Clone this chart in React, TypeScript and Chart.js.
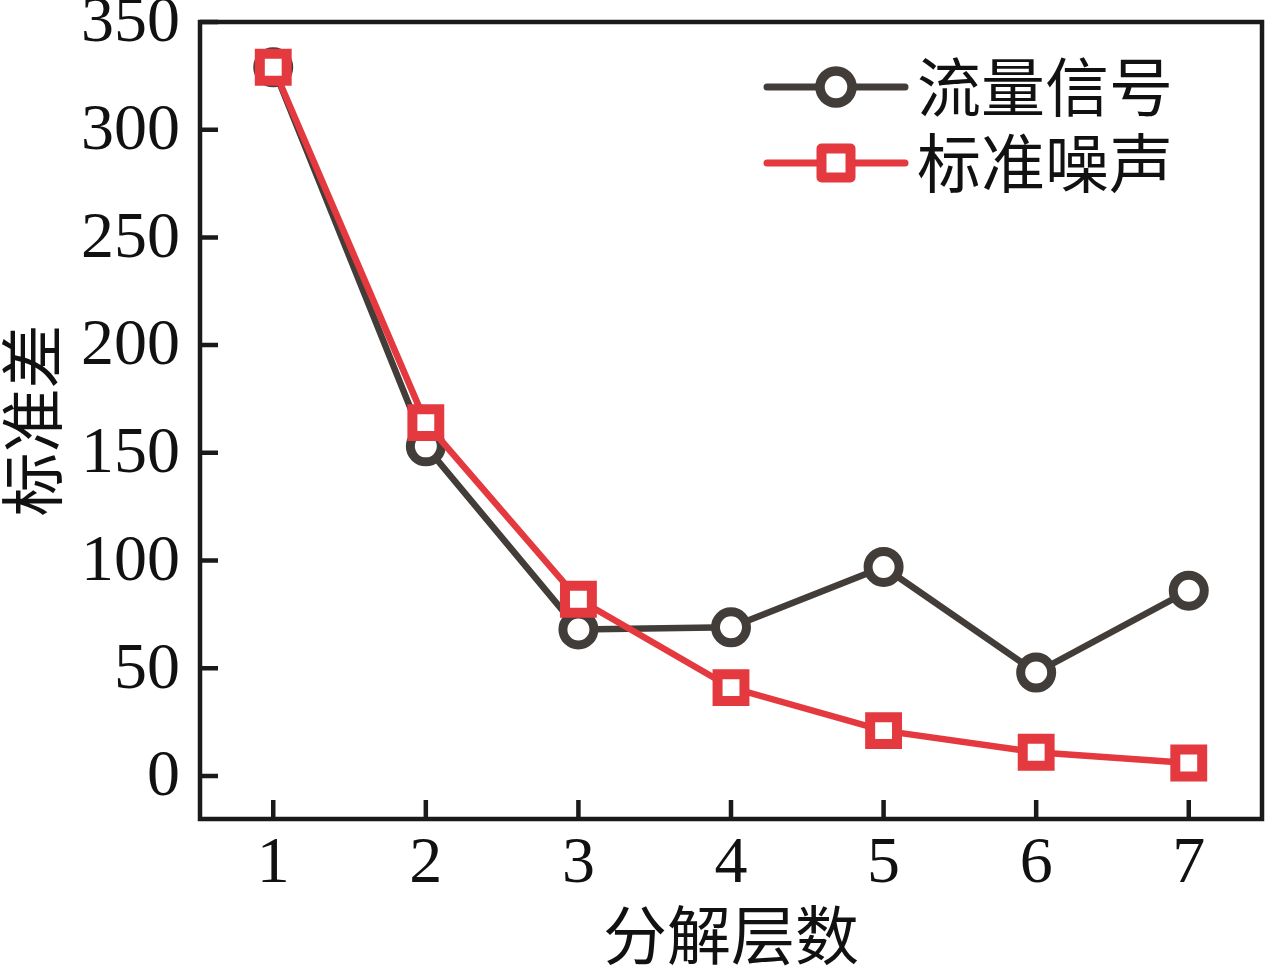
import { useEffect, useRef } from 'react';
import { Chart, registerables } from 'chart.js';
import type { Plugin } from 'chart.js';

Chart.register(...registerables);

// 分解层数 1..7
const levels = [1, 2, 3, 4, 5, 6, 7];
const flowSignal = [329, 153, 68, 69, 97, 48, 86];
const stdNoise = [329, 164, 82, 41, 21, 11, 6];
const yTickValues = [0, 50, 100, 150, 200, 250, 300, 350];
const seriesNames = ['流量信号', '标准噪声'];

const DARK = '#433d3a';
const RED = '#e4393f';
const AXIS = '#1a1a1a';
const SERIF = '"Liberation Serif", "Times New Roman", serif';
const CJK = '"Noto Sans CJK SC", sans-serif';

// 内向刻度 + 边框
const framePlugin: Plugin<'line'> = {
    id: 'frame',
    afterDraw(chart) {
        const { ctx, chartArea: a, scales } = chart;
        ctx.save();
        ctx.strokeStyle = AXIS;
        ctx.lineWidth = 4.5;
        ctx.beginPath();
        for (const t of scales.y.ticks) {
            const py = scales.y.getPixelForValue(t.value);
            ctx.moveTo(a.left, py);
            ctx.lineTo(a.left + 18, py);
        }
        for (const t of scales.x.ticks) {
            const px = scales.x.getPixelForValue(t.value);
            ctx.moveTo(px, a.bottom);
            ctx.lineTo(px, a.bottom - 19);
        }
        ctx.stroke();
        ctx.strokeRect(a.left, a.top, a.right - a.left, a.bottom - a.top);
        ctx.restore();
    },
};

// 图例：线段 + 标记 + 文字
const legendPlugin: Plugin<'line'> = {
    id: 'lineLegend',
    afterDraw(chart) {
        const { ctx, chartArea: a } = chart;
        const items = [
            { name: seriesNames[0], color: DARK, style: 'circle' },
            { name: seriesNames[1], color: RED, style: 'rect' },
        ];
        ctx.save();
        items.forEach((it, i) => {
            const y = a.top + 65 + i * 76;
            const x0 = a.right - 495;
            const x1 = a.right - 357;
            const cx = (x0 + x1) / 2;
            ctx.strokeStyle = it.color;
            ctx.lineWidth = 7;
            ctx.lineCap = 'round';
            ctx.beginPath();
            ctx.moveTo(x0, y);
            ctx.lineTo(x1, y);
            ctx.stroke();
            ctx.lineCap = 'butt';
            ctx.fillStyle = '#ffffff';
            ctx.beginPath();
            if (it.style === 'circle') {
                ctx.lineWidth = 9.5;
                ctx.arc(cx, y, 16, 0, Math.PI * 2);
            } else {
                ctx.lineWidth = 10;
                ctx.lineJoin = 'round';
                ctx.rect(cx - 14.5, y - 14.5, 29, 29);
            }
            ctx.fill();
            ctx.stroke();
            ctx.fillStyle = '#111111';
            ctx.font = `64px ${CJK}`;
            ctx.textAlign = 'left';
            ctx.textBaseline = 'middle';
            ctx.fillText(it.name, a.right - 345, y);
        });
        ctx.restore();
    },
};

// 固定轴尺寸，去掉标签溢出的自动边距
const fixSize = (dim: 'width' | 'height', val: number) => (s: any) => {
    s[dim] = val;
    s.paddingTop = 0;
    s.paddingBottom = 0;
    s.paddingLeft = 0;
    s.paddingRight = 0;
};

export default function App() {
    const canvasRef = useRef<HTMLCanvasElement | null>(null);
    const chartRef = useRef<Chart<'line'> | null>(null);

    useEffect(() => {
        document.body.style.margin = '0';
        const canvas = canvasRef.current;
        if (!canvas) return;

        const existing = Chart.getChart(canvas);
        if (existing) existing.destroy();

        const tickFont = { family: SERIF, size: 66 };
        const titleFont = { family: CJK, size: 64, lineHeight: 1 };

        chartRef.current = new Chart(canvas, {
            type: 'line',
            data: {
                datasets: [
                    {
                        label: seriesNames[1],
                        data: levels.map((x, i) => ({ x, y: stdNoise[i] })),
                        borderColor: RED,
                        backgroundColor: '#ffffff',
                        borderWidth: 6.5,
                        tension: 0,
                        pointStyle: 'rect',
                        pointRadius: 19,
                        pointBorderWidth: 10,
                        pointBorderColor: RED,
                        pointBackgroundColor: '#ffffff',
                        order: 0,
                    },
                    {
                        label: seriesNames[0],
                        data: levels.map((x, i) => ({ x, y: flowSignal[i] })),
                        borderColor: DARK,
                        backgroundColor: '#ffffff',
                        borderWidth: 6.5,
                        tension: 0,
                        pointStyle: 'circle',
                        pointRadius: 15.5,
                        pointBorderWidth: 9,
                        pointBorderColor: DARK,
                        pointBackgroundColor: '#ffffff',
                        order: 1,
                    },
                ],
            },
            options: {
                animation: false,
                responsive: true,
                maintainAspectRatio: false,
                layout: { autoPadding: false, padding: { top: 22, right: 4, left: 0, bottom: 0 } },
                plugins: {
                    legend: { display: false },
                    tooltip: { enabled: false },
                },
                scales: {
                    x: {
                        type: 'linear',
                        min: 0.52,
                        max: 7.48,
                        afterBuildTicks: (s) => {
                            s.ticks = levels.map((v) => ({ value: v }));
                        },
                        afterFit: fixSize('height', 152),
                        grid: { display: false },
                        border: { display: false },
                        ticks: { font: tickFont, color: '#111111', padding: -2, maxRotation: 0 },
                        title: {
                            display: true,
                            text: '分解层数',
                            font: titleFont,
                            color: '#111111',
                            padding: { top: 0, bottom: 4 },
                        },
                    },
                    y: {
                        type: 'linear',
                        min: -20,
                        max: 350,
                        afterBuildTicks: (s) => {
                            s.ticks = yTickValues.map((v) => ({ value: v }));
                        },
                        afterFit: fixSize('width', 200),
                        grid: { display: false },
                        border: { display: false },
                        ticks: { font: tickFont, color: '#111111', padding: 12, labelOffset: 2 },
                        title: {
                            display: true,
                            text: '标准差',
                            font: titleFont,
                            color: '#111111',
                            padding: { top: 0, bottom: 0 },
                        },
                    },
                },
            },
            plugins: [framePlugin, legendPlugin],
        });

        return () => {
            if (chartRef.current) {
                chartRef.current.destroy();
                chartRef.current = null;
            }
        };
    }, []);

    return (
        <div style={{ width: 1266, height: 971, position: 'relative', background: '#ffffff' }}>
            <canvas ref={canvasRef} />
        </div>
    );
}
